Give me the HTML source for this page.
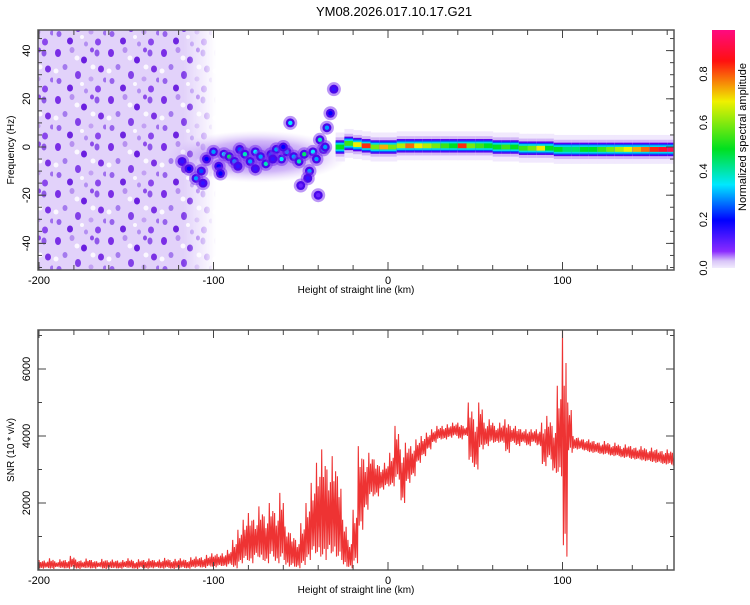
<!DOCTYPE html>
<html><head><meta charset="utf-8"><style>
body{margin:0;background:#fff;}
svg{font-family:"Liberation Sans",sans-serif;}
</style></head><body>
<svg id="c" width="750" height="600" xmlns="http://www.w3.org/2000/svg">
<defs>
<pattern id="noise" width="53" height="47" patternUnits="userSpaceOnUse">
<rect width="53" height="47" fill="#e2d2fa"/>
<ellipse cx="5" cy="6" rx="3" ry="4" fill="#7a2ee6"/>
<ellipse cx="19" cy="3" rx="2.5" ry="3" fill="#b690f0"/>
<ellipse cx="31" cy="13" rx="3" ry="3.5" fill="#6a1ee0"/>
<ellipse cx="44" cy="6" rx="2.5" ry="3.5" fill="#9058ea"/>
<ellipse cx="12" cy="20" rx="2.5" ry="3" fill="#a47aee"/>
<ellipse cx="48" cy="22" rx="3" ry="3.5" fill="#7a30e4"/>
<ellipse cx="25" cy="28" rx="3" ry="4" fill="#8240e8"/>
<ellipse cx="38" cy="32" rx="2.5" ry="2.5" fill="#c2a0f3"/>
<ellipse cx="6" cy="34" rx="2.5" ry="3" fill="#9662ec"/>
<ellipse cx="17" cy="41" rx="3" ry="3.5" fill="#6e24e0"/>
<ellipse cx="45" cy="42" rx="3" ry="3.5" fill="#8a46ec"/>
<ellipse cx="33" cy="44" rx="2" ry="2.5" fill="#b38ef2"/>
<ellipse cx="39" cy="3" rx="2" ry="2.5" fill="#8d4cea"/>
<ellipse cx="52" cy="33" rx="2" ry="2.5" fill="#a070ee"/>
<ellipse cx="24" cy="11" rx="2.5" ry="2.5" fill="#fbf8ff"/>
<ellipse cx="40" cy="20" rx="2.5" ry="2.5" fill="#fbf8ff"/>
<ellipse cx="3" cy="24" rx="2.5" ry="2.5" fill="#fbf8ff"/>
<ellipse cx="29" cy="37" rx="2" ry="2" fill="#fbf8ff"/>
</pattern>
<linearGradient id="fade" x1="0" y1="0" x2="1" y2="0">
<stop offset="0" stop-color="#fff" stop-opacity="1"/><stop offset="0.85" stop-color="#fff" stop-opacity="1"/><stop offset="1" stop-color="#fff" stop-opacity="0"/>
</linearGradient>
<mask id="nm"><rect x="0" y="0" width="216" height="300" fill="url(#fade)"/></mask>
<radialGradient id="haze"><stop offset="0" stop-color="#6a20ee" stop-opacity="0.75"/><stop offset="0.6" stop-color="#9a60f0" stop-opacity="0.45"/><stop offset="1" stop-color="#c8a8f5" stop-opacity="0"/></radialGradient>
<linearGradient id="cb" x1="0" y1="1" x2="0" y2="0">
<stop offset="0" stop-color="#f2ecfd"/><stop offset="0.03" stop-color="#d8c4f8"/>
<stop offset="0.07" stop-color="#8a2bff"/><stop offset="0.2" stop-color="#0000ff"/>
<stop offset="0.35" stop-color="#00e8ff"/><stop offset="0.5" stop-color="#00e020"/>
<stop offset="0.7" stop-color="#f0f000"/><stop offset="0.87" stop-color="#ff1010"/>
<stop offset="1" stop-color="#ff0a80"/>
</linearGradient>
</defs>
<text x="394" y="16" font-size="13" text-anchor="middle">YM08.2026.017.10.17.G21</text>
<g id="top"></g>
<g id="bot"></g>
</svg>
<script>
// SNR data at 3 km steps starting at -200 km
const snrStartKm = -200, snrStepKm = 3;
const snrHi = [300,280,350,260,320,300,420,310,280,340,300,260,330,290,310,280,300,350,270,320,300,340,290,310,360,300,330,350,300,380,
400,380,450,500,480,500,600,900,1200,1500,1700,1500,1900,1600,2000,1700,2300,1300,1100,900,1400,2000,2600,3200,3600,3000,3400,2800,1500,900,
1800,3700,3300,3500,3300,3100,3200,3500,4300,3600,3800,3700,3900,4000,4100,4200,4300,4300,4350,4400,4400,4300,5000,4500,5000,4400,4500,4300,4400,4500,
4300,4300,4200,4200,4200,4200,4400,4600,4300,5500,7200,5000,4000,3950,3900,3900,3850,3800,3850,3750,3800,3700,3750,3700,3650,3700,3600,3650,3600,3550,3600,3500];
const snrLo = [40,60,30,80,50,40,70,30,60,50,40,80,30,60,50,40,70,50,30,60,40,50,70,40,60,30,50,60,40,70,
80,60,100,80,120,100,150,50,200,300,200,400,300,200,400,200,300,100,100,50,150,300,500,400,300,500,400,300,100,50,
200,1200,1800,2200,2200,2400,2500,2500,2700,2000,2600,2800,3200,3400,3600,3800,3900,3900,3950,4000,3900,4000,3200,3000,3600,3700,3800,3800,3800,3500,
3800,3700,3800,3700,3800,3700,3100,3300,2900,2800,400,3500,3600,3600,3550,3500,3500,3450,3450,3400,3400,3350,3350,3300,3300,3250,3250,3200,3200,3150,3150,3100];
const xTicks = [-200,-100,0,100];
const snrTicks = [2000,4000,6000];
const freqTicks = [-40,-20,0,20,40];
const cbTicks = [0.0,0.2,0.4,0.6,0.8];
// spectrogram ridge (5 km steps from -30 km)
const bandStartKm = -30, bandStepKm = 5;
const bandFreq = [0,1.5,1,0.5,0,0,0,0.5,0.5,0.5,0.5,0.5,0.5,0.5,0.5,0.5,0.5,0.5,0,0,0,-0.5,-0.5,-0.5,-0.5,-1,-1,-1,-1,-1,-1,-1,-1,-1,-1,-1,-1,-1,-1,-1];
const bandAmp = [0.5,0.55,0.7,0.85,0.6,0.75,0.6,0.65,0.8,0.7,0.65,0.6,0.55,0.5,0.85,0.6,0.55,0.5,0.5,0.55,0.5,0.55,0.6,0.7,0.5,0.5,0.45,0.45,0.5,0.5,0.55,0.6,0.65,0.7,0.75,0.8,0.85,0.9,0.95,0.95];
// scattered blobs in the chaotic region
const blobKm = [-118,-114,-110,-107,-104,-100,-97,-94,-91,-88,-85,-82,-79,-76,-73,-70,-67,-64,-61,-58,-56,-54,-51,-48,-45,-43,-41,-39,-37,-35,-33,-31,-106,-96,-86,-76,-66,-60,-46,-50,-36,-40];
const blobHz = [-6,-9,-13,-10,-5,-2,-8,-3,-4,-6,-1,-3,-6,-2,-4,-7,-3,-1,-5,-2,10,-4,-6,-3,-10,-2,-5,3,-1,8,14,24,-15,-11,-8,-9,-5,0,-13,-16,0,-20];
const blobAmp = [0.15,0.2,0.3,0.25,0.2,0.3,0.2,0.35,0.45,0.3,0.25,0.4,0.3,0.35,0.3,0.4,0.25,0.3,0.35,0.3,0.35,0.3,0.4,0.45,0.3,0.35,0.3,0.4,0.35,0.3,0.2,0.15,0.15,0.2,0.15,0.15,0.15,0.2,0.15,0.1,0.3,0.1];

const NS="http://www.w3.org/2000/svg";
function el(tag,attrs,parent){const e=document.createElementNS(NS,tag);for(const k in attrs)e.setAttribute(k,attrs[k]);parent.appendChild(e);return e;}
const L=38,R=674;
const xS=v=>388+v*1.745;
const T1=30,B1=270; const fS=v=>147-v*2.41;
const T2=330,B2=570; const sS=v=>570-v*0.0335;
function cmap(a){
  const st=[[0,[242,236,253]],[0.07,[138,43,255]],[0.2,[0,0,255]],[0.35,[0,232,255]],[0.5,[0,224,32]],[0.7,[240,240,0]],[0.87,[255,16,16]],[1,[255,10,128]]];
  for(let i=1;i<st.length;i++){if(a<=st[i][0]){const t=(a-st[i-1][0])/(st[i][0]-st[i-1][0]);const c=st[i-1][1].map((v,j)=>Math.round(v+(st[i][1][j]-v)*t));return`rgb(${c})`;}}
  return 'rgb(255,10,128)';
}
const topG=document.getElementById('top'), botG=document.getElementById('bot');
// ---- top plot
const clip=el('clipPath',{id:'cp1'},topG); el('rect',{x:L,y:T1,width:R-L,height:B1-T1},clip);
const pg=el('g',{'clip-path':'url(#cp1)'},topG);
const noise=el('rect',{x:L,y:T1,width:xS(-98)-L,height:B1-T1,fill:'url(#noise)',mask:'url(#nm)'},pg);


el('ellipse',{cx:xS(-75),cy:fS(-4),rx:90,ry:26,fill:'url(#haze)'},pg);
// blobs
for(let i=0;i<blobKm.length;i++){
  const cx=xS(blobKm[i]), cy=fS(blobHz[i]), a=blobAmp[i];
  const g=el('g',{},pg);
  
  
  el('ellipse',{cx:cx,cy:cy,rx:7,ry:7,fill:'#7a30ee',opacity:0.5},g);
  el('ellipse',{cx:cx,cy:cy,rx:4.5,ry:4.5,fill:'#4a08ea'},g);
  el('ellipse',{cx:cx,cy:cy,rx:2.2,ry:2.2,fill:cmap(a)},g);
}
// band
for(let i=0;i<bandFreq.length;i++){
  const k=bandStartKm+i*bandStepKm; const x0=xS(k), w=xS(k+bandStepKm)-x0+0.5; const f=bandFreq[i];
  const layers=[[6,'#f1e9fd'],[4,'#d2b6f7'],[2.8,'#5a00f0'],[2.2,'#0050ff'],[1.7,'#00d8e8'],[1,cmap(bandAmp[i])]];
  const g=el('g',{},pg);
  
  
  layers.forEach(([h,c])=>el('rect',{x:x0,y:fS(f+h),width:w,height:fS(f-h)-fS(f+h),fill:c},g));
}
function frame(g,T,B,yt,yS,name){
  const f=el('rect',{x:L,y:T,width:R-L,height:B-T,fill:'none',stroke:'#555',"stroke-width":1.5},g);
  
  
  for(let v=-200;v<=160;v+=20){const x=xS(v);const big=v%100===0;el('line',{x1:x,y1:B,x2:x,y2:B-(big?8:5),stroke:'#444'},g);el('line',{x1:x,y1:T,x2:x,y2:T+(big?8:5),stroke:'#444'},g);}
  xTicks.forEach(v=>{const t=el('text',{x:xS(v),y:B+14,'font-size':11,'text-anchor':'middle'},g);t.textContent=v;
    });
  yt.forEach(v=>{const y=yS(v);el('line',{x1:L,y1:y,x2:L+8,y2:y,stroke:'#444'},g);el('line',{x1:R,y1:y,x2:R-8,y2:y,stroke:'#444'},g);
    const t=el('text',{x:0,y:0,'font-size':11,'text-anchor':'middle',transform:`translate(30,${y}) rotate(-90)`},g);t.textContent=v;
    });
  const xl=el('text',{x:356,y:B+23,'font-size':10,'text-anchor':'middle'},g);xl.textContent='Height of straight line (km)';
  
}
frame(topG,T1,B1,freqTicks,fS,'spectrogram');
for(let v=-50;v<=45;v+=5){const y=fS(v);if(y>T1&&y<B1){el('line',{x1:L,y1:y,x2:L+4,y2:y,stroke:'#444'},topG);el('line',{x1:R,y1:y,x2:R-4,y2:y,stroke:'#444'},topG);}}
const yl1=el('text',{x:0,y:0,'font-size':10,'text-anchor':'middle',transform:'translate(14,150) rotate(-90)'},topG);yl1.textContent='Frequency (Hz)';

// colorbar
const cb=el('rect',{x:712,y:30,width:23,height:238,fill:'url(#cb)'},topG);

cbTicks.forEach(v=>{const y=268-v*242.5;const t=el('text',{x:0,y:0,'font-size':11,'text-anchor':'middle',transform:`translate(707,${y}) rotate(-90)`},topG);t.textContent=v.toFixed(1);
  });
const ct=el('text',{x:0,y:0,'font-size':11,'text-anchor':'middle',transform:'translate(746,137) rotate(-90)'},topG);ct.textContent='Normalized spectral amplitude';

// ---- bottom plot
const clip2=el('clipPath',{id:'cp2'},botG); el('rect',{x:L,y:T2,width:R-L,height:B2-T2},clip2);
const sub=[1,0.95,0.75,0.9,0.85,1];
let d='';
for(let i=0;i<snrHi.length;i++){const k=snrStartKm+i*snrStepKm;const hi=snrHi[i],lo=snrLo[i];
  for(let s=0;s<sub.length;s++){
    const kx=k+snrStepKm*s/sub.length;
    const v=(s%2===0)? lo+(hi-lo)*sub[s] : hi-(hi-lo)*sub[s];
    d+=((i||s)?'L':'M')+xS(kx).toFixed(1)+','+sS(v).toFixed(1);
  }}
const snrLine=el('path',{d:d,fill:'none',stroke:'#ee3333','stroke-width':1.1,'clip-path':'url(#cp2)'},botG);

frame(botG,T2,B2,snrTicks,sS,'snr');
for(let v=1000;v<=7000;v+=1000){const y=sS(v);el('line',{x1:L,y1:y,x2:L+4,y2:y,stroke:'#444'},botG);el('line',{x1:R,y1:y,x2:R-4,y2:y,stroke:'#444'},botG);}
const yl2=el('text',{x:0,y:0,'font-size':10,'text-anchor':'middle',transform:'translate(14,450) rotate(-90)'},botG);yl2.textContent='SNR (10 * v/v)';

</script>
</body></html>
